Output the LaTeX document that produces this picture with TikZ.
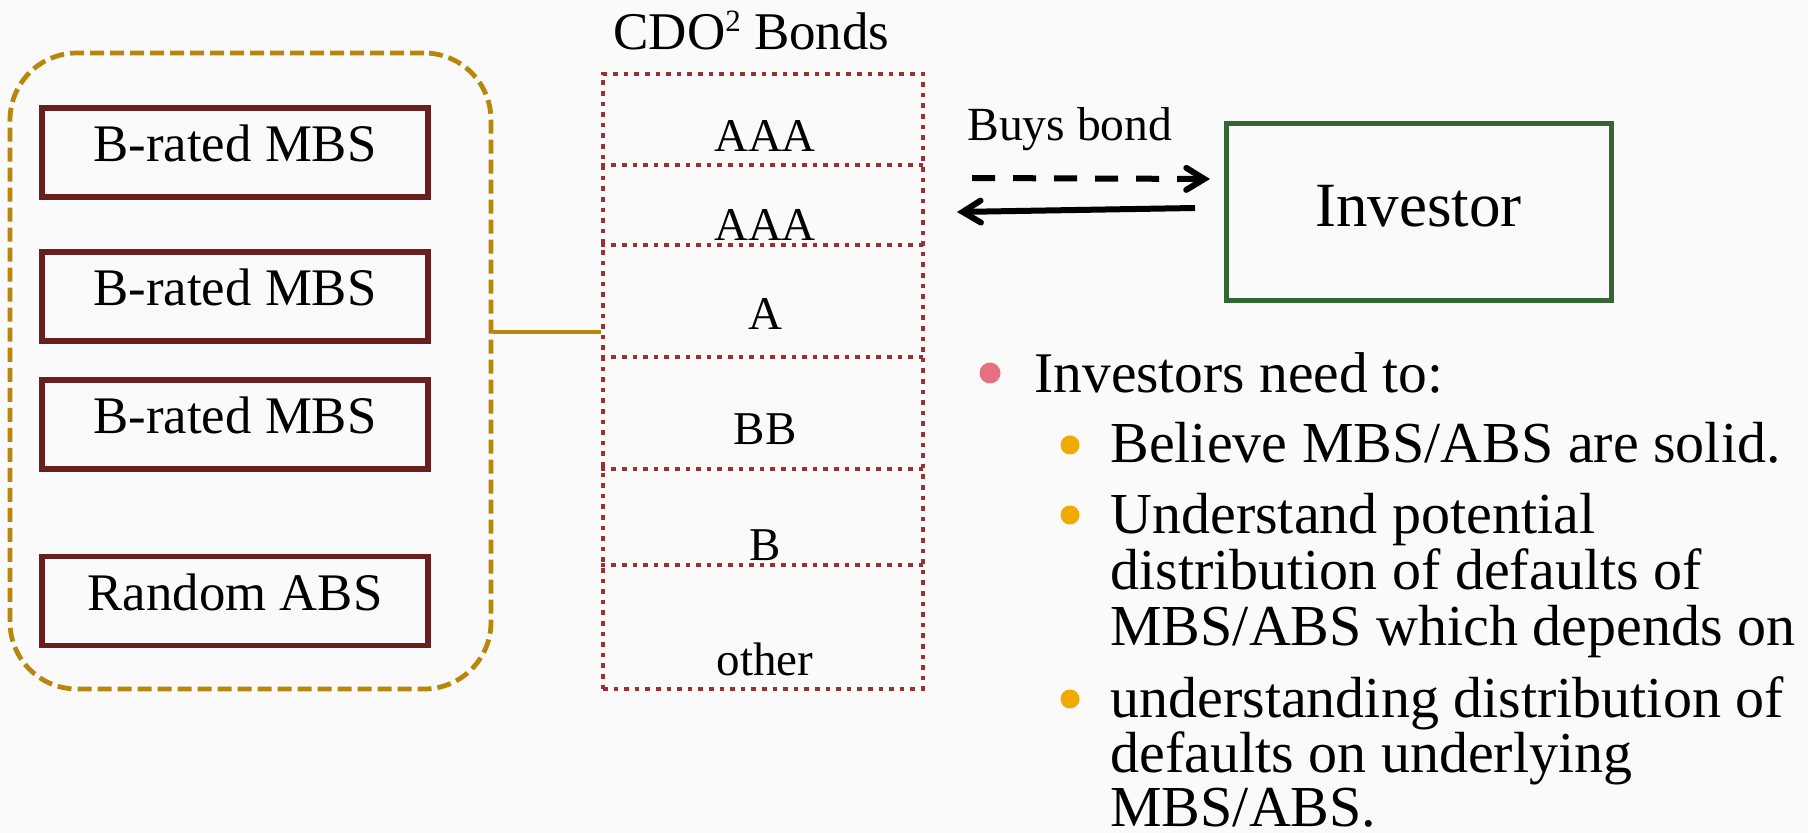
\documentclass[tikz,border=0pt]{standalone}
\usepackage{fontspec}
\setmainfont{Liberation Serif}
\usetikzlibrary{arrows.meta}

\definecolor{bgc}{RGB}{250,250,250}
\definecolor{poolc}{RGB}{184,134,11}
\definecolor{mbsc}{RGB}{106,31,31}
\definecolor{cdoc}{RGB}{155,48,48}
\definecolor{invc}{RGB}{51,102,51}
\definecolor{pinkb}{RGB}{230,112,130}
\definecolor{orangeb}{RGB}{240,170,0}

\newcommand\setfs[1]{\fontsize{#1}{#1}\selectfont}

\tikzset{
  pool/.style={draw=poolc, line width=2.4pt, dash pattern=on 7pt off 3pt,
    rounded corners=33.5pt, minimum width=240.5pt, minimum height=318pt, inner sep=0pt},
  link/.style={draw=poolc, line width=2.4pt},
  mbs/.style={draw=mbsc, line width=2.6pt, minimum width=193pt, minimum height=44.5pt,
    inner sep=0pt, font=\setfs{26.4pt}, text height=17.5pt, text depth=8pt},
  cdo/.style={draw=cdoc, line width=2.3pt, dash pattern=on 2.3pt off 3pt,
    minimum width=160pt, minimum height=307.5pt, inner sep=0pt},
  tranche/.style={draw=cdoc, line width=2.3pt, dash pattern=on 2.3pt off 3pt},
  tlabel/.style={anchor=base, inner sep=0pt, font=\setfs{23.5pt}},
  investor/.style={draw=invc, line width=2.5pt, minimum width=192.5pt, minimum height=88.5pt,
    inner sep=0pt, font=\setfs{31.5pt}, text height=20.85pt, text depth=6.35pt},
  flow/.style={line width=3pt, -{Straight Barb[length=9pt,width=11pt,line cap=round]}},
  line0/.style={anchor=base west, inner sep=0pt, font=\setfs{28.75pt}},
  line1/.style={anchor=base west, inner sep=0pt, font=\setfs{29pt}},
}

\begin{document}
\begin{tikzpicture}[x=0.5pt, y=-0.5pt]
  % canvas
  \fill[bgc] (0,0) rectangle (1808,833);
  \useasboundingbox (0,0) rectangle (1808,833);

  % collateral pool
  \node[pool] (pool) at (250.5,371) {};
  \node[mbs] (m1) at (235,152.5) {B-rated MBS};
  \node[mbs] (m2) at (235,296.5) {B-rated MBS};
  \node[mbs] (m3) at (235,424.5) {B-rated MBS};
  \node[mbs] (m4) at (235,601)   {Random ABS};

  % CDO^2 tranches
  \node[cdo] (cdo) at (763,381.5) {};
  \node[anchor=base west, inner sep=0pt, font=\setfs{26.5pt}] (title) at (613,50)
    {CDO\raisebox{9pt}{\setfs{15.5pt}2} Bonds};
  \foreach \y [count=\i] in {165,245,357,469,565}
    \draw[tranche] (cdo.west |- 0,\y) coordinate (d\i) -- (cdo.east |- 0,\y);
  \node[tlabel] (t1) at (765,152) {AAA};
  \node[tlabel] (t2) at (765,241) {AAA};
  \node[tlabel] (t3) at (765,330) {A};
  \node[tlabel] (t4) at (765,445) {BB};
  \node[tlabel] (t5) at (765,560) {B};
  \node[tlabel] (t6) at (765,675) {other};

  % pool feeds the CDO
  \coordinate (lk) at (pool.east |- 0,332);
  \draw[link] (lk) -- (lk -| cdo.west);

  % investor
  \node[investor] (inv) at (1418.5,212.5) {Investor};
  \node[anchor=base west, inner sep=0pt, font=\setfs{23.8pt}] (buy) at (967,141) {Buys bond};
  \coordinate (bs) at (972,178);
  \coordinate (be) at (1210,179);
  \coordinate (ps) at (1195,208);
  \coordinate (pe) at (957,212);
  \draw[flow, dash pattern=on 11.5pt off 9pt] (bs) -- (be);
  \draw[flow] (ps) -- (pe);

  % bullet list
  \fill[pinkb] (990,373) circle [radius=5.25pt];
  \node[line0] (b0) at (1034,393) {Investors need to:};
  \fill[orangeb] (1070,445) circle [radius=4.75pt];
  \fill[orangeb] (1070,515) circle [radius=4.75pt];
  \fill[orangeb] (1070,699) circle [radius=4.75pt];
  \node[line1] (b1) at (1110,463) {Believe MBS/ABS are solid.};
  \node[line1] (b2) at (1110,533) {Understand potential};
  \node[line1] (b3) at (1110,589) {distribution of defaults of};
  \node[line1] (b4) at (1110,645) {MBS/ABS which depends on};
  \node[line1] (b5) at (1110,717) {understanding distribution of};
  \node[line1] (b6) at (1110,772) {defaults on underlying};
  \node[line1] (b7) at (1110,826) {MBS/ABS.};
\end{tikzpicture}
\end{document}
